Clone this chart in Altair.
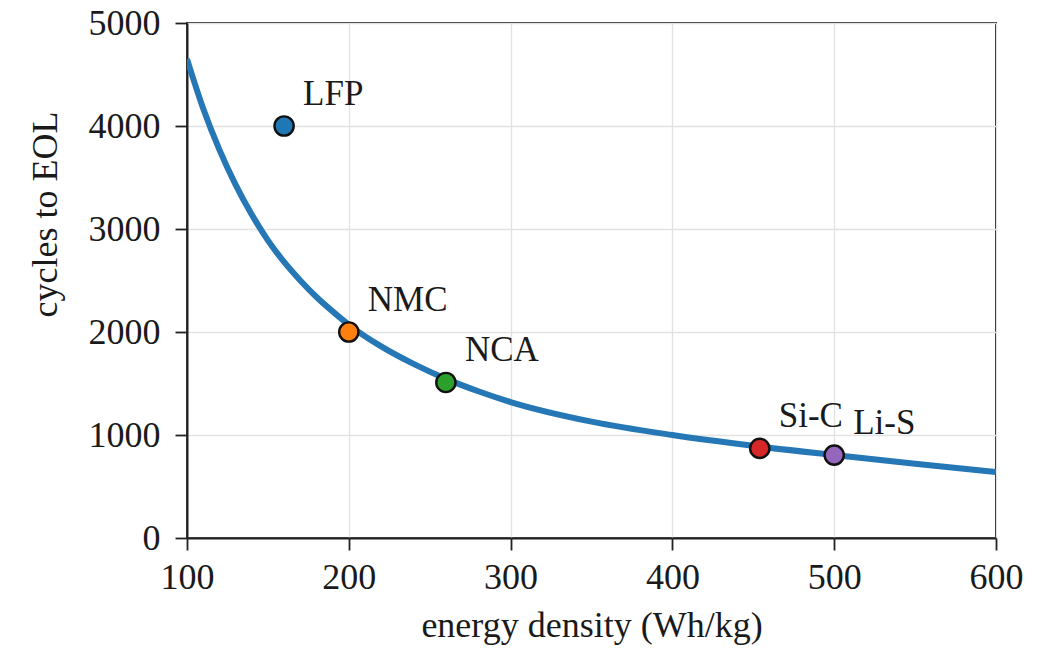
import altair as alt
import pandas as pd

# fitted curve
curve_x = [100, 110, 120, 130, 140, 150, 160, 170, 180, 190, 200, 220, 240, 260, 280, 300, 350, 400, 450, 500, 550, 600]
curve_y = [4650, 4170, 3770, 3430, 3140, 2890, 2680, 2500, 2340, 2200, 2070, 1860, 1690, 1545, 1425, 1320, 1130, 1000, 895, 805, 720, 640]

# chemistries
names = ["LFP", "NMC", "NCA", "Si-C", "Li-S"]
energy = [160, 200, 260, 454, 500]
cycles = [4000, 2000, 1510, 870, 805]
colors = ["#1f77b4", "#ff7f0e", "#2ca02c", "#d62728", "#9467bd"]

x_ticks = [100, 200, 300, 400, 500, 600]
y_ticks = [0, 1000, 2000, 3000, 4000, 5000]

FONT = "Liberation Serif"
TXT = "#1a1a1a"

curve_df = pd.DataFrame({"x": curve_x, "y": curve_y})
pts_df = pd.DataFrame({"name": names, "x": energy, "y": cycles, "color": colors})

xs = alt.Scale(domain=[100, 600], nice=False, zero=False)
ys = alt.Scale(domain=[0, 5000], nice=False)

common = dict(labelFont=FONT, titleFont=FONT, labelFontSize=36, titleFontSize=36,
              labelColor=TXT, titleColor=TXT, titleFontWeight="normal",
              tickColor="#222", domainColor="#222", tickSize=12, tickWidth=1.8,
              domainWidth=2, gridColor="#e2e2e2", gridWidth=1.3, labelFlush=False,
              format="d")

xax = alt.Axis(values=x_ticks, title="energy density (Wh/kg)", labelPadding=10,
               titleY=87, titleBaseline="middle", **common)
yax = alt.Axis(values=y_ticks, title="cycles to EOL", labelPadding=15,
               titleX=-142, titleY=191, titleBaseline="middle", titleAlign="center", **common)

line = alt.Chart(curve_df).mark_line(interpolate="monotone", strokeWidth=6, color="#2577b5", clip=True).encode(
    x=alt.X("x:Q", scale=xs, axis=xax),
    y=alt.Y("y:Q", scale=ys, axis=yax),
)

points = alt.Chart(pts_df).mark_point(filled=True, size=370, stroke="#111", strokeWidth=2.4, opacity=1).encode(
    x=alt.X("x:Q", scale=xs),
    y=alt.Y("y:Q", scale=ys),
    fill=alt.Fill("color:N", scale=None),
)

labels = alt.Chart(pts_df).mark_text(align="left", baseline="middle", dx=19, dy=-32,
                                     font=FONT, fontSize=35, color=TXT).encode(
    x=alt.X("x:Q", scale=xs),
    y=alt.Y("y:Q", scale=ys),
    text="name:N",
)

chart = alt.layer(line, points, labels).properties(
    width=809, height=515,
    autosize=alt.AutoSizeParams(type="none"),
    padding={"left": 187, "top": 23, "right": 47, "bottom": 112},
    background="white",
).configure_view(stroke="#222", strokeWidth=2)

chart.save("out.html", embed_options={"renderer": "svg", "actions": False})
